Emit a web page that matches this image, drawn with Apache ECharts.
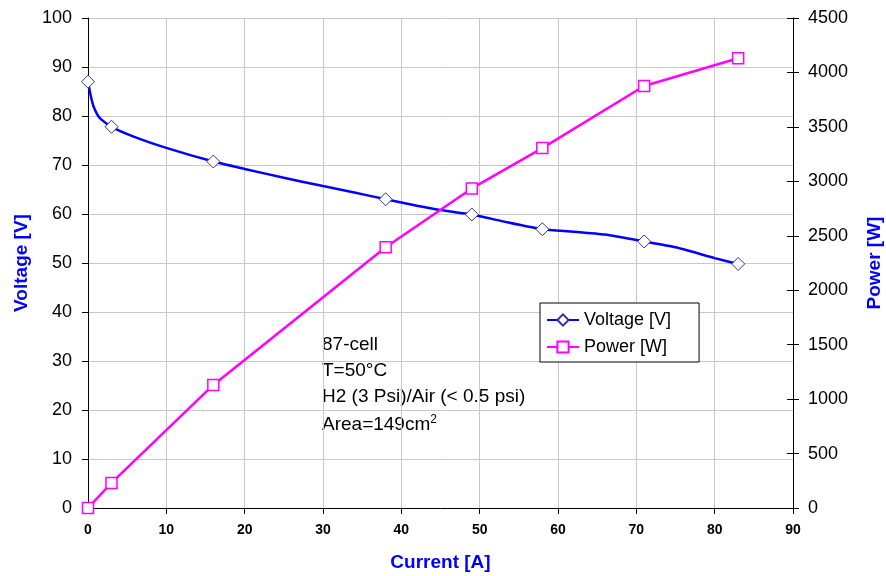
<!DOCTYPE html>
<html><head><meta charset="utf-8">
<script src="https://cdn.jsdelivr.net/npm/echarts@6/dist/echarts.min.js"></script>
<style>html,body{margin:0;padding:0;background:#fff}#c{width:886px;height:576px}</style>
</head><body><div id="c"></div>
<script>
// measured points (with markers)
const currentMeasured = [0, 3, 16, 38, 49, 58, 71, 83];
const voltageMeasured = [87, 77.8, 70.7, 63.0, 59.9, 56.9, 54.4, 49.8];
const powerMeasured = [0, 230, 1130, 2395, 2935, 3305, 3875, 4130];
// unmarked points read along the voltage curve between the markers
const voltageCurveCurrent = [0.3, 0.7, 1.5, 6, 10, 20, 25, 30, 34, 42, 45, 53, 62, 66, 75, 80];
const voltageCurveValues = [84.5, 82, 79.6, 75.7, 73.5, 69.2, 67.4, 65.7, 64.4, 61.7, 60.8, 58.5, 56.4, 55.8, 53.2, 51.0];
const annotationLines = ['87-cell', 'T=50°C', 'H2 (3 Psi)/Air (< 0.5 psi)'];
const areaText = ['Area=149cm', '2'];

const FONT = '"Liberation Sans", Arial, sans-serif';

const voltagePts = [];
currentMeasured.forEach((x, i) => voltagePts.push({ value: [x, voltageMeasured[i]], symbol: 'diamond' }));
voltageCurveCurrent.forEach((x, i) => voltagePts.push({ value: [x, voltageCurveValues[i]], symbol: 'none' }));
voltagePts.sort((a, b) => a.value[0] - b.value[0]);
const powerPts = currentMeasured.map((x, i) => [x, powerMeasured[i]]);

const chart = echarts.init(document.getElementById('c'), null, { renderer: 'canvas' });
const graphics = annotationLines.map((t, i) => ({
  type: 'text', x: 322, y: [345, 371, 397][i],
  style: { text: t, fontSize: 19, fontFamily: FONT, fill: '#000', align: 'left', verticalAlign: 'middle' }
}));
graphics.push({
  type: 'text', x: 322, y: 425,
  style: {
    text: '{a|' + areaText[0] + '}{s|' + areaText[1] + '}',
    fill: '#000', align: 'left', verticalAlign: 'middle',
    rich: {
      a: { fontSize: 19, fontFamily: FONT, fill: '#000' },
      s: { fontSize: 12, fontFamily: FONT, fill: '#000', verticalAlign: 'top', padding: [0, 0, 10, 0] }
    }
  }
});

chart.setOption({
  animation: false,
  backgroundColor: '#fff',
  grid: { left: 88, right: 93, top: 18, bottom: 68, outerBoundsMode: 'none', containLabel: false },
  legend: {
    left: 540, top: 303, orient: 'vertical',
    itemWidth: 32, itemHeight: 14, itemGap: 9,
    padding: [8, 28, 6, 6],
    borderColor: '#000', borderWidth: 1, backgroundColor: '#fff',
    textStyle: { fontSize: 18, color: '#000', fontFamily: FONT },
    data: ['Voltage [V]', 'Power [W]']
  },
  xAxis: {
    type: 'value', min: 0, max: 90, interval: 10,
    name: 'Current [A]', nameLocation: 'middle', nameGap: 45,
    nameTextStyle: { color: '#0000ff', fontWeight: 'bold', fontSize: 19, fontFamily: FONT },
    axisLine: { show: true, lineStyle: { color: '#000', width: 1 } },
    axisTick: { show: true, length: 6, lineStyle: { color: '#000' } },
    axisLabel: { color: '#000', fontSize: 14, fontWeight: 'bold', fontFamily: FONT, margin: 15 },
    splitLine: { show: true, lineStyle: { color: '#c8c8c8', width: 1 } }
  },
  yAxis: [{
    type: 'value', min: 0, max: 100, interval: 10, position: 'left',
    name: 'Voltage [V]', nameLocation: 'middle', nameGap: 56, nameRotate: 90,
    nameTextStyle: { color: '#0000ff', fontWeight: 'bold', fontSize: 19, fontFamily: FONT },
    axisLine: { show: true, lineStyle: { color: '#000', width: 1 } },
    axisTick: { show: true, length: 6, lineStyle: { color: '#000' } },
    axisLabel: { color: '#000', fontSize: 18, fontFamily: FONT, margin: 16 },
    splitLine: { show: true, lineStyle: { color: '#c8c8c8', width: 1 } }
  }, {
    type: 'value', min: 0, max: 4500, interval: 500, position: 'right',
    name: 'Power [W]', nameLocation: 'middle', nameGap: 72, nameRotate: 90,
    nameTextStyle: { color: '#0000ff', fontWeight: 'bold', fontSize: 19, fontFamily: FONT },
    axisLine: { show: true, lineStyle: { color: '#000', width: 1 } },
    axisTick: { show: true, length: 6, lineStyle: { color: '#000' } },
    axisLabel: { color: '#000', fontSize: 18, fontFamily: FONT, margin: 15, formatter: v => String(v) },
    splitLine: { show: false }
  }, {
    type: 'value', min: 0, max: 4500, interval: 500, position: 'right', offset: 0,
    axisLine: { show: false },
    axisTick: { show: true, inside: true, length: 6, lineStyle: { color: '#000' } },
    axisLabel: { show: false },
    splitLine: { show: false }
  }],
  series: [{
    name: 'Voltage [V]', type: 'line', yAxisIndex: 0,
    data: voltagePts, symbol: 'diamond', symbolSize: 13, showSymbol: true, smooth: 0.2,
    lineStyle: { color: '#0000ff', width: 2.5 },
    itemStyle: { color: '#fff', borderColor: '#333399', borderWidth: 1 },
    emphasis: { disabled: true }, z: 2
  }, {
    name: 'Power [W]', type: 'line', yAxisIndex: 1,
    data: powerPts, symbol: 'rect', symbolSize: 11, showSymbol: true,
    lineStyle: { color: '#ff00ff', width: 2.5 },
    itemStyle: { color: '#fff', borderColor: '#ff00ff', borderWidth: 1.5 },
    emphasis: { disabled: true }, z: 3
  }],
  graphic: graphics
});
</script></body></html>
